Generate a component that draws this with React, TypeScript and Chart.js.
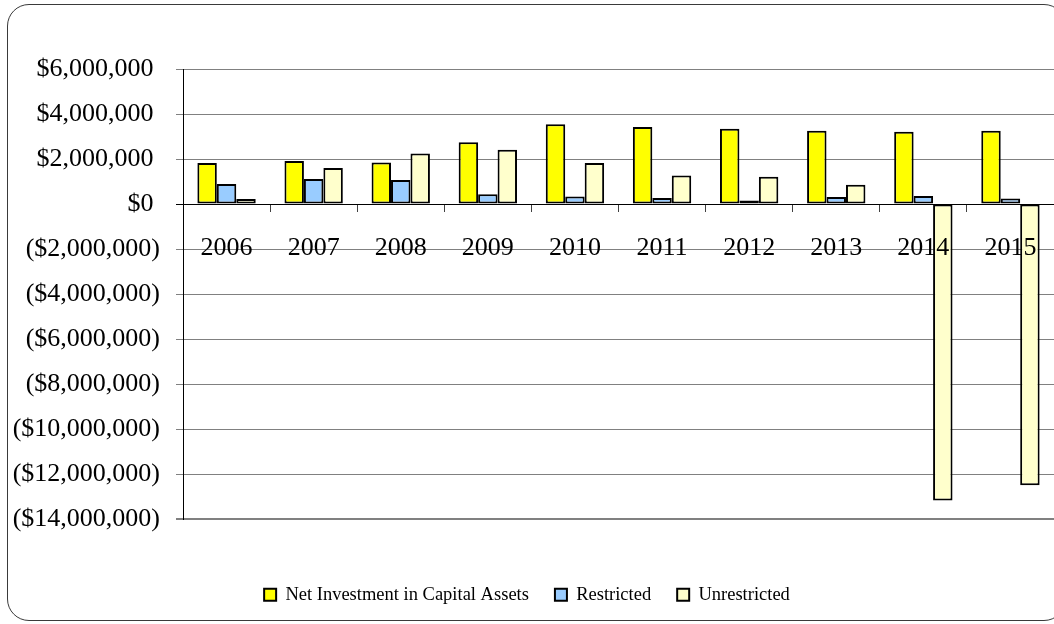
import React, { useEffect, useRef } from "react";
import { Chart, registerables } from "chart.js";

Chart.register(...registerables);

const years = ["2006", "2007", "2008", "2009", "2010", "2011", "2012", "2013", "2014", "2015"];
const netInvestment = [1820000, 1910000, 1840000, 2740000, 3540000, 3420000, 3350000, 3260000, 3210000, 3260000];
const restricted = [890000, 1110000, 1070000, 430000, 330000, 270000, 160000, 310000, 360000, 250000];
const unrestricted = [220000, 1600000, 2250000, 2410000, 1820000, 1270000, 1210000, 860000, -13180000, -12500000];
const seriesNames = ["Net Investment in Capital Assets", "Restricted", "Unrestricted"];
const yMin = -14000000;
const yMax = 6000000;
const yStep = 2000000;

const FONT = '"Liberation Serif", "Times New Roman", Times, serif';

function formatMoney(v: number): string {
  if (v < 0) return `($${Math.abs(v).toLocaleString("en-US")})`;
  return `$${v.toLocaleString("en-US")} `;
}

export default function App() {
  const canvasRef = useRef<HTMLCanvasElement | null>(null);

  useEffect(() => {
    const canvas = canvasRef.current;
    if (!canvas) return;
    const chart = new Chart(canvas, {
      type: "bar",
      data: {
        labels: years,
        datasets: [
          {
            label: seriesNames[0],
            data: netInvestment,
            backgroundColor: "#FFFF00",
            borderColor: "#000000",
            borderWidth: 2,
            borderSkipped: false,
          },
          {
            label: seriesNames[1],
            data: restricted,
            backgroundColor: "#99CCFF",
            borderColor: "#000000",
            borderWidth: 2,
            borderSkipped: false,
          },
          {
            label: seriesNames[2],
            data: unrestricted,
            backgroundColor: "#FFFFCC",
            borderColor: "#000000",
            borderWidth: 2,
            borderSkipped: false,
          },
        ],
      },
      options: {
        responsive: false,
        animation: false,
        devicePixelRatio: 1,
        layout: { padding: { left: 0, right: 0, top: 69, bottom: 10 } },
        datasets: { bar: { categoryPercentage: 0.67, barPercentage: 1 } },
        plugins: {
          tooltip: { enabled: false },
          title: { display: false },
          legend: {
            position: "bottom",
            labels: {
              font: { family: FONT, size: 18.5 },
              color: "#000000",
              boxWidth: 12,
              boxHeight: 12,
              padding: 26,
            },
            title: {
              display: true,
              text: "",
              padding: { top: 28.5, bottom: 0 },
              font: { size: 10 },
            },
          },
        },
        scales: {
          x: {
            position: { y: 0 },
            grid: {
              display: true,
              drawOnChartArea: false,
              drawTicks: true,
              tickLength: 7,
              offset: true,
              color: "#404040",
            },
            border: { display: true, color: "#000000", width: 1 },
            ticks: {
              font: { family: FONT, size: 26 },
              color: "#000000",
              padding: 22,
              z: 1,
              maxRotation: 0,
              autoSkip: false,
            },
            afterFit: (scale: any) => {
              scale.paddingLeft = 0;
              scale.paddingRight = 0;
            },
          },
          y: {
            min: yMin,
            max: yMax,
            ticks: {
              stepSize: yStep,
              callback: (v: any) => formatMoney(Number(v)),
              font: { family: FONT, size: 26 },
              color: "#000000",
              padding: 16,
            },
            grid: {
              color: (ctx: any) => (ctx.tick && ctx.tick.value === 0 ? "#000000" : "#808080"),
              lineWidth: (ctx: any) => (ctx.tick && ctx.tick.value === yMin ? 2 : 1),
              tickLength: 7,
            },
            border: { color: "#000000", width: 1 },
            afterFit: (scale: any) => {
              scale.width = 183;
            },
          },
        },
      } as any,
    });
    return () => chart.destroy();
  }, []);

  return (
    <div
      style={{
        position: "fixed",
        left: 0,
        top: 0,
        width: 1054,
        height: 624,
        overflow: "hidden",
        background: "#ffffff",
      }}
    >
      <div
        style={{
          position: "absolute",
          left: 7,
          top: 4,
          width: 1059,
          height: 617,
          border: "1.5px solid #3a3a3a",
          borderRadius: 22,
          boxSizing: "border-box",
        }}
      />
      <canvas
        ref={canvasRef}
        width={1054}
        height={624}
        style={{ position: "absolute", left: 0, top: 0, display: "block" }}
      />
    </div>
  );
}
